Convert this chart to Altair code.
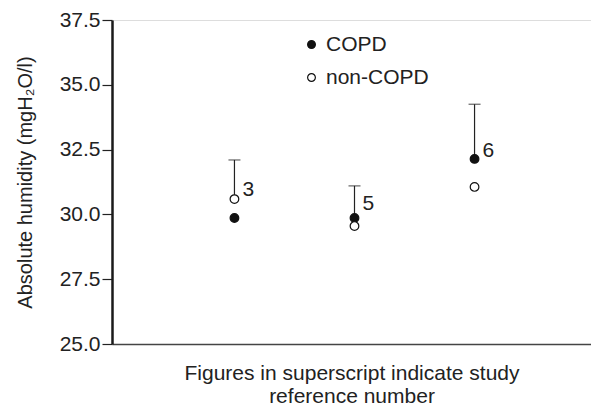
import altair as alt
import pandas as pd

studies = ["3", "5", "6"]
study_pos = [1, 2, 3]
copd = [29.86, 29.86, 32.14]
non_copd = [30.59, 29.55, 31.06]
err_low = [30.59, 29.86, 32.14]
err_high = [32.1, 31.1, 34.25]
label_y = [30.95, 30.4, 32.45]
groups = ["COPD", "non-COPD"]

FONT = "Liberation Sans"
INK = "#222222"

pts = pd.DataFrame({
    "pos": study_pos * 2,
    "value": copd + non_copd,
    "group": [groups[0]] * 3 + [groups[1]] * 3,
})
err = pd.DataFrame({"pos": study_pos, "lo": err_low, "hi": err_high,
                    "study": studies, "ly": label_y})

x = alt.X("pos:Q", scale=alt.Scale(domain=[-0.02, 3.97], nice=False, zero=False),
          axis=alt.Axis(title=["Figures in superscript indicate study", "reference number"],
                        labels=False, ticks=False, domainColor="#444444", domainWidth=1.5,
                        titlePadding=18, titleLineHeight=23, titleFontSize=21))
y_axis = alt.Axis(title="Absolute humidity (mgH₂O/l)", values=[25, 27.5, 30, 32.5, 35, 37.5],
                  format=".1f", domainColor="#1a1a1a", domainWidth=2.5,
                  tickColor="#222222", tickSize=10, tickWidth=1.2,
                  labelPadding=2, titlePadding=24, titleFontSize=20)
yscale = alt.Scale(domain=[25, 37.5], nice=False, zero=False)

rules = alt.Chart(err).mark_rule(color="#222222", strokeWidth=1.2).encode(
    x=x, y=alt.Y("lo:Q", scale=yscale, axis=y_axis), y2="hi:Q")
caps = alt.Chart(err).mark_tick(orient="horizontal", color="#222222", thickness=1.2, size=12).encode(
    x="pos:Q", y=alt.Y("hi:Q", scale=yscale))
points = alt.Chart(pts).mark_point(shape="circle", size=75, filled=False, stroke="#111111",
                                   strokeWidth=1.2, opacity=1).encode(
    x="pos:Q",
    y=alt.Y("value:Q", scale=yscale),
    fill=alt.Fill("group:N", scale=alt.Scale(domain=groups, range=["#111111", "#ffffff"]),
                  legend=alt.Legend(title=None, orient="none", legendX=189, legendY=14,
                                    symbolType="circle", symbolSize=60, symbolStrokeColor="#111111",
                                    symbolStrokeWidth=1.2, labelOffset=4, rowPadding=11)),
)
labels = alt.Chart(err).mark_text(align="left", baseline="middle", dx=8, font=FONT,
                                  fontSize=21, color=INK).encode(
    x="pos:Q", y=alt.Y("ly:Q", scale=yscale), text="study:N")

chart = alt.layer(rules, caps, points, labels).properties(
    width=479, height=324,
    autosize=alt.AutoSizeParams(type="none"),
    padding={"left": 112, "top": 20, "right": 0, "bottom": 62},
).configure_view(stroke=None).configure(background="white").configure_axis(
    grid=False, labelFont=FONT, labelFontSize=21, labelColor=INK,
    titleFont=FONT, titleFontWeight="normal", titleColor=INK,
).configure_legend(
    labelFont=FONT, labelFontSize=21, labelColor=INK,
)

chart.save("out.html", embed_options={"renderer": "svg", "actions": False})
